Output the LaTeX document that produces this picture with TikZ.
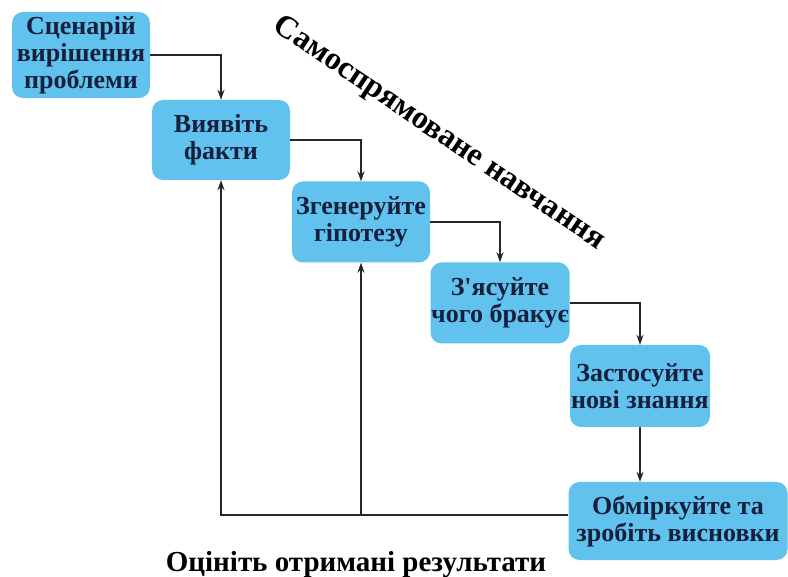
\documentclass[tikz,border=0pt]{standalone}
\usepackage{fontspec}
\setmainfont{Liberation Serif}[BoldFont={Liberation Serif Bold}]
\newfontfamily\labelfont{Liberation Serif Bold}
\usetikzlibrary{arrows.meta}
\definecolor{boxblue}{RGB}{96,194,237}
\definecolor{boxtext}{RGB}{22,32,62}
\begin{document}
\begin{tikzpicture}[x=1pt,y=-1pt,
  stepbox/.style={rectangle, rounded corners=11pt, fill=boxblue, draw=none,
    text=boxtext, font=\labelfont\fontsize{26}{27}\selectfont, align=center,
    inner sep=0pt},
  flow/.style={draw=black!85, line width=1.4pt, -{Stealth[length=10pt,width=7pt]}}]
\useasboundingbox (0,0) rectangle (788,577);
\fill[white] (0,0) rectangle (788,577);

% process steps
\node[stepbox, minimum width=138pt, minimum height=86pt] (b1) at (81,55) {Сценарій\\вирішення\\проблеми};
\node[stepbox, minimum width=138pt, minimum height=80pt] (b2) at (221,140) {Виявіть\\факти};
\node[stepbox, minimum width=138pt, minimum height=81pt] (b3) at (361,222) {Згенеруйте\\гіпотезу};
\node[stepbox, minimum width=139pt, minimum height=81pt] (b4) at (500,303) {З'ясуйте\\чого бракує};
\node[stepbox, minimum width=140pt, minimum height=82pt] (b5) at (640,386) {Застосуйте\\нові знання};
\node[stepbox, minimum width=219pt, minimum height=78pt] (b6) at (678,521) {Обміркуйте та\\зробіть висновки};

% staircase of steps
\draw[flow] (b1.east) -| (b2.north);
\draw[flow] (b2.east) -| (b3.north);
\draw[flow] (b3.east) -| (b4.north);
\draw[flow] (b4.east) -| (b5.north);
\draw[flow] (b5.south) -- (b5.south |- b6.north);

% feedback loop from the last step
\coordinate (back) at ([yshift=6pt]b6.west);
\coordinate (mid) at (b3.south |- back);
\draw[flow] (back) -| (b2.south);
\draw[flow] (mid) -- (b3.south);

\node[font=\labelfont\fontsize{29}{32}\selectfont] (eval) at (356,565) {Оцініть отримані результати};
\node[font=\labelfont\fontsize{32}{34}\selectfont, rotate=-34] (self) at (439,134) {Самоспрямоване навчання};
\end{tikzpicture}
\end{document}
